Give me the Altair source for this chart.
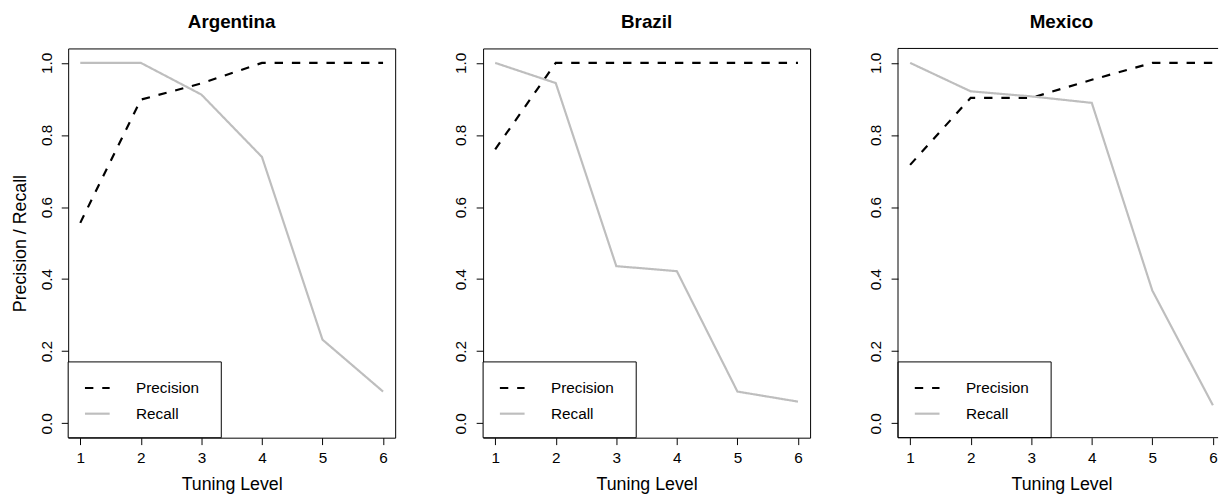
import altair as alt
import pandas as pd

levels = [1, 2, 3, 4, 5, 6]
countries = ["Argentina", "Brazil", "Mexico"]
metrics = ["Precision", "Recall"]

precision_argentina = [0.556, 0.898, 0.943, 1.0, 1.0, 1.0]
recall_argentina = [1.0, 1.0, 0.912, 0.739, 0.232, 0.088]
precision_brazil = [0.760, 1.0, 1.0, 1.0, 1.0, 1.0]
recall_brazil = [1.0, 0.944, 0.436, 0.422, 0.088, 0.060]
precision_mexico = [0.717, 0.903, 0.903, 0.953, 1.0, 1.0]
recall_mexico = [1.0, 0.921, 0.907, 0.889, 0.368, 0.050]

y_ticks = [0.0, 0.2, 0.4, 0.6, 0.8, 1.0]

series = {
    "Argentina": (precision_argentina, recall_argentina),
    "Brazil": (precision_brazil, recall_brazil),
    "Mexico": (precision_mexico, recall_mexico),
}

FONT = "Liberation Sans"
GRAY = "#BEBEBE"
H = 394
W = 331


def make_df(country):
    p, r = series[country]
    rows = []
    for lv, v in zip(levels, p):
        rows.append({"level": lv, "value": v, "metric": "Precision"})
    for lv, v in zip(levels, r):
        rows.append({"level": lv, "value": v, "metric": "Recall"})
    return pd.DataFrame(rows)


one = alt.Data(values=[{"a": 1}])


def panel(country, idx):
    width = W if idx < 2 else 324
    if idx < 2:
        xscale = alt.Scale(domain=[0.8, 6.2], nice=False, zero=False)
    else:
        xscale = alt.Scale(domain=[0.8, 6.2], nice=False, zero=False, range=[0, W])
    yscale = alt.Scale(domain=[-0.04, 1.04], nice=False, zero=False)

    xaxis = alt.Axis(
        values=levels, format="d", domain=False, grid=False,
        tickSize=7, tickColor="black", tickWidth=1,
        labelFontSize=15.5, labelColor="black", labelPadding=18,
        labelBaseline="alphabetic", labelFlush=False, labelOverlap=False,
        titleFontSize=18, titleFontWeight="normal", titleColor="black",
        titleBaseline="alphabetic", titleAlign="center", titleX=165.5, titleY=52.5,
    )
    yargs = dict(
        values=y_ticks, format=".1f", domain=False, grid=False,
        tickSize=7, tickColor="black", tickWidth=1,
        labelFontSize=15.5, labelColor="black", labelPadding=10.3,
        labelAngle=270, labelAlign="center", labelBaseline="alphabetic",
        labelFlush=False, labelOverlap=False,
    )
    if idx == 0:
        yaxis = alt.Axis(
            **yargs,
            titleFontSize=18, titleFontWeight="normal", titleColor="black",
            titleAngle=270, titleBaseline="alphabetic", titleAlign="center",
            titleX=-43, titleY=H / 2,
        )
        ytitle = "Precision / Recall"
    else:
        yaxis = alt.Axis(**yargs)
        ytitle = None

    lines = alt.Chart(make_df(country)).mark_line(strokeWidth=2.2, strokeCap="butt").encode(
        x=alt.X("level:Q", scale=xscale, axis=xaxis, title="Tuning Level"),
        y=alt.Y("value:Q", scale=yscale, axis=yaxis, title=ytitle),
        color=alt.Color("metric:N", scale=alt.Scale(domain=metrics, range=["black", GRAY]), legend=None),
        strokeDash=alt.StrokeDash("metric:N", scale=alt.Scale(domain=metrics, range=[[8.5, 9], [1, 0]]), legend=None),
    )

    title = alt.Chart(one).mark_text(text=country, align="center", baseline="alphabetic",
                                     fontSize=19, fontWeight="bold", font=FONT, color="black").encode(
        x=alt.value(165.5), y=alt.value(-21)
    )
    box = alt.Chart(one).mark_rect(fill="white", stroke="black", strokeWidth=1).encode(
        x=alt.value(0), x2=alt.value(155), y=alt.value(317.3), y2=alt.value(H)
    )
    leg_p = alt.Chart(one).mark_rule(color="black", strokeWidth=2.2, strokeDash=[8.5, 9], strokeCap="butt").encode(
        x=alt.value(17), x2=alt.value(42), y=alt.value(343.7)
    )
    leg_r = alt.Chart(one).mark_rule(color=GRAY, strokeWidth=2.2, strokeCap="butt").encode(
        x=alt.value(17), x2=alt.value(42), y=alt.value(369.7)
    )
    txt_p = alt.Chart(one).mark_text(text="Precision", align="left", baseline="alphabetic",
                                     fontSize=15.5, font=FONT, color="black").encode(
        x=alt.value(68.7), y=alt.value(348.7)
    )
    txt_r = alt.Chart(one).mark_text(text="Recall", align="left", baseline="alphabetic",
                                     fontSize=15.5, font=FONT, color="black").encode(
        x=alt.value(68.7), y=alt.value(374.7)
    )

    layers = [lines, box, leg_p, leg_r, txt_p, txt_r, title]
    props = dict(width=width, height=H)
    if idx == 2:
        top = alt.Chart(one).mark_rule(color="black", strokeWidth=1).encode(
            x=alt.value(0), x2=alt.value(width), y=alt.value(0))
        left = alt.Chart(one).mark_rule(color="black", strokeWidth=1).encode(
            x=alt.value(0), y=alt.value(0), y2=alt.value(H))
        bottom = alt.Chart(one).mark_rule(color="black", strokeWidth=1).encode(
            x=alt.value(0), x2=alt.value(width), y=alt.value(H))
        layers += [top, left, bottom]
        props["view"] = alt.ViewBackground(stroke="transparent")
    return alt.layer(*layers).properties(**props)


chart = alt.hconcat(
    *[panel(c, i) for i, c in enumerate(countries)], spacing=58
).properties(
    padding={"left": 11, "top": 9, "right": 0, "bottom": 0},
    background="white",
).configure(font=FONT).configure_view(stroke="black", strokeWidth=1)

chart.save("out.html", embed_options={"renderer": "svg", "actions": False})
